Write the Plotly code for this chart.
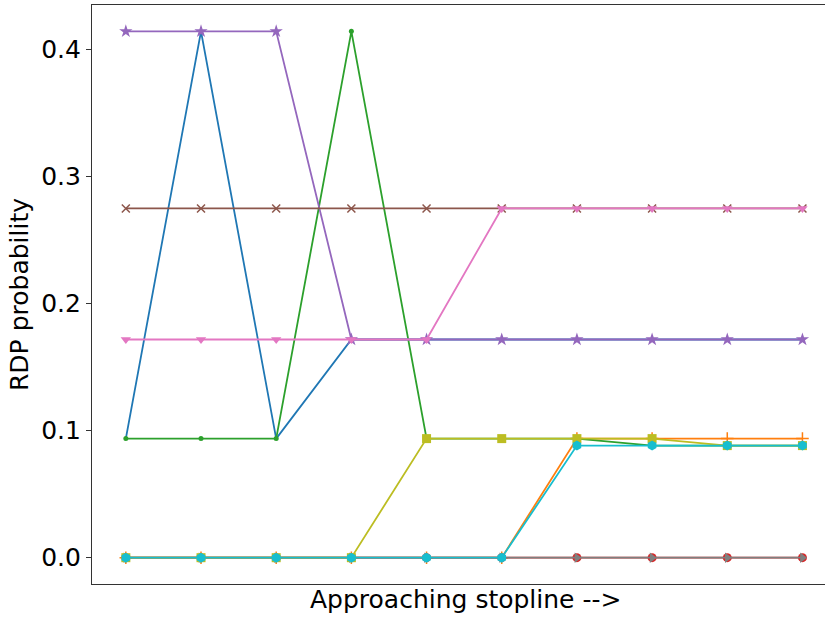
import plotly.graph_objects as go

x = list(range(10))
s_blue = [0.0937, 0.4142, 0.0937, 0.1717, 0.1717, 0.1717, 0.1717, 0.1717, 0.1717, 0.1717]
s_orange = [0, 0, 0, 0, 0, 0, 0.0937, 0.0937, 0.0937, 0.0937]
s_green = [0.0937, 0.0937, 0.0937, 0.4142, 0.0937, 0.0937, 0.0937, 0.0882, 0.0882, 0.0882]
s_red = [0, 0, 0, 0, 0, 0, 0, 0, 0, 0]
s_purple = [0.4142, 0.4142, 0.4142, 0.1717, 0.1717, 0.1717, 0.1717, 0.1717, 0.1717, 0.1717]
s_brown = [0.2748, 0.2748, 0.2748, 0.2748, 0.2748, 0.2748, 0.2748, 0.2748, 0.2748, 0.2748]
s_pink = [0.1717, 0.1717, 0.1717, 0.1717, 0.1717, 0.2748, 0.2748, 0.2748, 0.2748, 0.2748]
s_gray = [0, 0, 0, 0, 0, 0, 0, 0, 0, 0]
s_olive = [0, 0, 0, 0, 0.0937, 0.0937, 0.0937, 0.0937, 0.0882, 0.0882]
s_cyan = [0, 0, 0, 0, 0, 0, 0.0882, 0.0882, 0.0882, 0.0882]
y_ticks = [0, 0.1, 0.2, 0.3, 0.4]
y_ticklabels = ["0.0", "0.1", "0.2", "0.3", "0.4"]
x_title = "Approaching stopline -->"
y_title = "RDP probability"

series = [
    (s_blue, "#1f77b4", "circle", 2),
    (s_orange, "#ff7f0e", "cross-thin", 9),
    (s_green, "#2ca02c", "circle", 5),
    (s_red, "#d62728", "circle", 9),
    (s_purple, "#9467bd", "star", 10),
    (s_brown, "#8c564b", "x-thin", 8),
    (s_pink, "#e377c2", "triangle-down", 9),
    (s_gray, "#7f7f7f", "triangle-right", 9),
    (s_olive, "#bcbd22", "square", 9),
    (s_cyan, "#17becf", "hexagon", 10),
]

fig = go.Figure()
for ys, c, sym, sz in series:
    fig.add_trace(go.Scatter(
        x=x, y=ys, mode="lines+markers",
        line=dict(color=c, width=1.8),
        marker=dict(symbol=sym, size=sz, color=c, line=dict(color=c, width=1.5 if "thin" in sym else 0)),
        showlegend=False,
    ))

fig.update_layout(
    width=825, height=618,
    margin=dict(l=92, r=0, t=5, b=34),
    plot_bgcolor="white", paper_bgcolor="white",
    font=dict(family="DejaVu Sans", size=25, color="black"),
)
fig.add_annotation(
    text=x_title, xref="paper", yref="paper", x=0.509, y=0.0,
    xanchor="center", yanchor="top", showarrow=False, font=dict(size=25),
    borderpad=0,
)
fig.update_xaxes(
    range=[-0.45, 9.30], showticklabels=False, ticks="", showgrid=False, zeroline=False,
    showline=True, linecolor="#333", linewidth=1.2, mirror=True,
)
fig.update_yaxes(
    range=[-0.0207, 0.4349], tickvals=y_ticks, ticktext=y_ticklabels,
    ticks="outside", ticklen=5, tickcolor="#333", showgrid=False, zeroline=False,
    showline=True, linecolor="#333", linewidth=1.2, mirror=False,
    title=dict(text=y_title, standoff=5, font=dict(size=25)),
    tickfont=dict(size=25),
)
fig.write_html("out.html", config={"displayModeBar": False},
               post_script="document.body.style.margin='0';document.body.style.overflow='hidden';")
